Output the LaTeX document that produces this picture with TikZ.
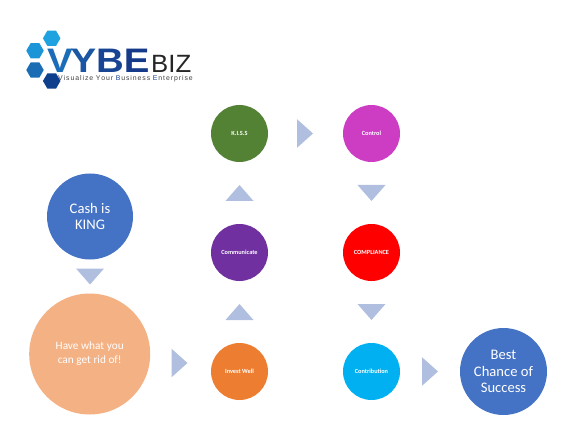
\documentclass[tikz,border=0pt]{standalone}
\usepackage{fontspec}
\setmainfont{Carlito}
\newfontfamily\logofont{Liberation Sans}
\usetikzlibrary{shapes.geometric}
\definecolor{triblue}{HTML}{B0BEDF}
\definecolor{kblue}{HTML}{4472C4}
\definecolor{kpeach}{HTML}{F4B183}
\definecolor{kgreen}{HTML}{548235}
\definecolor{kmag}{HTML}{CC3DC4}
\definecolor{kpurple}{HTML}{7030A0}
\definecolor{korange}{HTML}{ED7D31}
\definecolor{kcyan}{HTML}{00B0F0}
\definecolor{hexa1}{HTML}{1FA3E0}
\definecolor{hexa2}{HTML}{1B95D8}
\definecolor{hexa3}{HTML}{1A6DB4}
\definecolor{hexa4}{HTML}{0E3F8C}
\definecolor{vyb1}{HTML}{1C6DB8}
\definecolor{vyb2}{HTML}{1A56A2}
\definecolor{vyb3}{HTML}{174493}
\definecolor{vyb4}{HTML}{153A8A}
\tikzset{
  x=1pt,y=-1pt,
  big/.style={circle,draw=none,inner sep=0pt,text=white,align=center,font=\fontsize{14.6}{16.2}\selectfont},
  small/.style={circle,draw=none,inner sep=0pt,minimum size=57pt,text=white,align=center,font=\fontsize{6.3}{7}\selectfont\bfseries},
  hexa/.style={regular polygon,regular polygon sides=6,shape border rotate=0,draw=none,inner sep=0pt,minimum size=17.5pt},
  trifill/.style={fill=triblue,draw=none},
  logotxt/.style={inner sep=0pt,anchor=base west}
}
\newcommand{\triR}[3]{\coordinate (#1) at (#2,#3); \fill[trifill] ([shift={(-8,-14.3)}]#1) -- ([shift={(8,0)}]#1) -- ([shift={(-8,14.3)}]#1) -- cycle;}
\newcommand{\triD}[3]{\coordinate (#1) at (#2,#3); \fill[trifill] ([shift={(-14,-8)}]#1) -- ([shift={(14,-8)}]#1) -- ([shift={(0,8)}]#1) -- cycle;}
\newcommand{\triU}[3]{\coordinate (#1) at (#2,#3); \fill[trifill] ([shift={(-14,8)}]#1) -- ([shift={(14,8)}]#1) -- ([shift={(0,-8)}]#1) -- cycle;}
\begin{document}
\begin{tikzpicture}
\useasboundingbox (0,0) rectangle (576,433);
% logo
\node[hexa,fill=hexa1] (h1) at (51.7,38.3) {};
\node[hexa,fill=hexa2] (h2) at (35,50.7) {};
\node[hexa,fill=hexa3] (h3) at (35,70) {};
\node[hexa,fill=hexa4] (h4) at (51.7,81) {};
\node[logotxt,font=\logofont\bfseries\fontsize{34}{34}\selectfont] (vybe) at (47,72.5) {\scalebox{1.13}[1]{\textcolor{vyb1}{V}\kern-2pt\textcolor{vyb2}{Y}\textcolor{vyb3}{B}\textcolor{vyb4}{E}}};
\node[logotxt,font=\logofont\fontsize{25}{25}\selectfont,text=black!85] (biz) at (151,72.5) {\scalebox{1.03}[1]{BIZ}};
\node[logotxt,font=\logofont\fontsize{6.9}{7}\selectfont,text=black!75] (tag) at (58,80.5) {V\kern.93pt i\kern.93pt s\kern.93pt u\kern.93pt a\kern.93pt l\kern.93pt i\kern.93pt z\kern.93pt e\kern2.6pt Y\kern.93pt o\kern.93pt u\kern.93pt r\kern2.6pt \textcolor{vyb3}{B}\kern.93pt u\kern.93pt s\kern.93pt i\kern.93pt n\kern.93pt e\kern.93pt s\kern.93pt s\kern2.6pt \textcolor{vyb3}{E}\kern.93pt n\kern.93pt t\kern.93pt e\kern.93pt r\kern.93pt p\kern.93pt r\kern.93pt i\kern.93pt s\kern.93pt e};
% circles
\node[big,fill=kblue,minimum size=86pt] (cash) at (90,216.5) {Cash is\\KING};
\node[big,fill=kpeach,minimum size=121pt,font=\fontsize{11.3}{14}\selectfont] (have) at (89.7,354) {Have what you\\can get rid of!};
\node[small,fill=kgreen] (kiss) at (239.5,133.5) {K.I.S.S};
\node[small,fill=kmag] (control) at (371.5,133.5) {Control};
\node[small,fill=kpurple] (comm) at (239.5,252.5) {Communicate};
\node[small,fill=red] (compl) at (371.5,252.5) {COMPLIANCE};
\node[small,fill=korange] (invest) at (239.5,371.5) {Invest Well};
\node[small,fill=kcyan] (contrib) at (371.5,371.5) {Contribution};
\node[big,fill=kblue,minimum size=87pt] (best) at (503.5,371.5) {Best\\Chance of\\Success};
% triangle arrows
\triD{t1}{90}{276.5}
\triR{t2}{179.5}{363}
\triU{t3}{239.5}{312}
\triU{t4}{239.5}{193}
\triR{t5}{305}{133.5}
\triD{t6}{371.5}{193}
\triD{t7}{371.5}{312}
\triR{t8}{430}{371.5}
\end{tikzpicture}
\end{document}
